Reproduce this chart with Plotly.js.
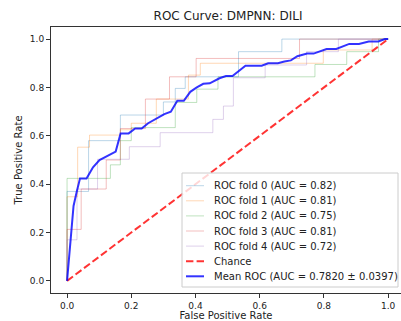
<!DOCTYPE html>
<html>
<head>
<meta charset="utf-8">
<script src="https://cdn.plot.ly/plotly-3.0.1.min.js"></script>
<style>html,body{margin:0;padding:0;background:#fff;}#chart{width:401px;height:321px;}</style>
</head>
<body>
<div id="chart"></div>
<script>
// ---- data ----
const foldLabels = ["ROC fold 0", "ROC fold 1", "ROC fold 2", "ROC fold 3", "ROC fold 4"];
const foldAUC = [0.82, 0.81, 0.75, 0.81, 0.72];

const fold0_fpr = [0, 0, 0.067, 0.067, 0.166, 0.166, 0.30, 0.30, 0.337, 0.337, 0.368, 0.368, 0.534, 0.534, 0.669, 0.669, 1];
const fold0_tpr = [0, 0.37, 0.37, 0.58, 0.58, 0.686, 0.686, 0.74, 0.74, 0.796, 0.796, 0.844, 0.844, 0.948, 0.948, 1, 1];

const fold1_fpr = [0, 0, 0.033, 0.033, 0.07, 0.07, 0.166, 0.166, 0.2, 0.2, 0.278, 0.278, 0.378, 0.378, 0.415, 0.415, 0.798, 0.798, 0.95, 0.95, 1];
const fold1_tpr = [0, 0.348, 0.348, 0.553, 0.553, 0.603, 0.603, 0.625, 0.625, 0.652, 0.652, 0.752, 0.752, 0.851, 0.851, 0.9, 0.9, 0.955, 0.955, 1, 1];

const fold2_fpr = [0, 0, 0.135, 0.135, 0.166, 0.166, 0.2, 0.2, 0.337, 0.337, 0.404, 0.404, 0.47, 0.47, 0.772, 0.772, 0.871, 0.871, 0.97, 0.97, 1];
const fold2_tpr = [0, 0.424, 0.424, 0.48, 0.48, 0.58, 0.58, 0.634, 0.634, 0.738, 0.738, 0.793, 0.793, 0.844, 0.844, 0.895, 0.895, 0.948, 0.948, 1, 1];

const fold3_fpr = [0, 0, 0.044, 0.044, 0.122, 0.122, 0.166, 0.166, 0.244, 0.244, 0.319, 0.319, 0.402, 0.402, 0.724, 0.724, 1];
const fold3_tpr = [0, 0.213, 0.213, 0.38, 0.38, 0.5, 0.5, 0.63, 0.63, 0.752, 0.752, 0.844, 0.844, 0.92, 0.92, 1, 1];

const fold4_fpr = [0, 0, 0.031, 0.031, 0.095, 0.095, 0.194, 0.194, 0.29, 0.29, 0.454, 0.454, 0.487, 0.487, 0.518, 0.518, 0.617, 0.617, 0.746, 0.746, 0.845, 0.845, 1];
const fold4_tpr = [0, 0.17, 0.17, 0.38, 0.38, 0.503, 0.503, 0.555, 0.555, 0.613, 0.613, 0.668, 0.668, 0.723, 0.723, 0.84, 0.84, 0.893, 0.893, 0.948, 0.948, 1, 1];

const mean_fpr = [0, 0.0101, 0.0202, 0.0303, 0.0404, 0.0606, 0.0808, 0.101, 0.1212, 0.1414, 0.1515, 0.1667, 0.1919, 0.2121, 0.2323, 0.2525, 0.2828, 0.303, 0.3232, 0.3434, 0.3636, 0.3838, 0.404, 0.4242, 0.4444, 0.4747, 0.4949, 0.5152, 0.5556, 0.6061, 0.6263, 0.6566, 0.6768, 0.697, 0.7172, 0.7475, 0.7677, 0.8081, 0.8384, 0.8788, 0.9091, 0.9394, 0.9697, 0.9899, 1.0];
const mean_tpr = [0, 0.16, 0.31, 0.37, 0.424, 0.424, 0.47, 0.5, 0.515, 0.53, 0.535, 0.61, 0.61, 0.63, 0.63, 0.652, 0.675, 0.69, 0.7, 0.745, 0.745, 0.782, 0.8, 0.815, 0.817, 0.838, 0.847, 0.847, 0.89, 0.89, 0.9, 0.9, 0.907, 0.912, 0.929, 0.94, 0.94, 0.959, 0.959, 0.98, 0.98, 0.99, 0.99, 1.0, 1.0];

const meanAUC = 0.7820;
const stdAUC = 0.0397;
const chance_x = [0, 1];
const chance_y = [0, 1];

const tickVals = [0, 0.2, 0.4, 0.6, 0.8, 1.0];
const tickText = ["0.0", "0.2", "0.4", "0.6", "0.8", "1.0"];

// ---- styling ----
const foldColors = ["rgba(31,119,180,0.3)", "rgba(255,127,14,0.3)", "rgba(44,160,44,0.3)", "rgba(214,39,40,0.3)", "rgba(148,103,189,0.3)"];
const chanceColor = "rgba(255,0,0,0.8)";
const meanColor = "rgba(0,0,255,0.8)";
const FONT = "DejaVu Sans, sans-serif";

const foldX = [fold0_fpr, fold1_fpr, fold2_fpr, fold3_fpr, fold4_fpr];
const foldY = [fold0_tpr, fold1_tpr, fold2_tpr, fold3_tpr, fold4_tpr];

const traces = [];
for (let i = 0; i < foldX.length; i++) {
  traces.push({x: foldX[i], y: foldY[i], type: "scatter", mode: "lines",
    line: {color: foldColors[i], width: 1}, hoverinfo: "skip", showlegend: false});
}
traces.push({x: chance_x, y: chance_y, type: "scatter", mode: "lines",
  line: {color: chanceColor, width: 2, dash: "7.4px,3.2px"}, showlegend: false});
traces.push({x: mean_fpr, y: mean_tpr, type: "scatter", mode: "lines",
  line: {color: meanColor, width: 2}, showlegend: false});

// ---- hand-built legend (matplotlib spacing) ----
const W = 401, H = 321, ML = 51, MR = 0, MT = 27, MB = 28;
const pw = W - ML - MR, ph = H - MT - MB;
const px = v => (v - ML) / pw;
const py = v => (H - MB - v) / ph;

const legLabels = foldLabels.map((l, i) => l + " (AUC = " + foldAUC[i].toFixed(2) + ")");
legLabels.push("Chance");
legLabels.push("Mean ROC (AUC = " + meanAUC.toFixed(4) + " \u00b1 " + stdAUC.toFixed(4) + ")");
const legStyles = foldColors.map(c => ({color: c, width: 1}));
legStyles.push({color: chanceColor, width: 2, dash: "7.4px,3.2px"});
legStyles.push({color: meanColor, width: 2});

const shapes = [{type: "rect", xref: "paper", yref: "paper", layer: "above",
  x0: px(182), x1: px(398), y0: py(287), y1: py(173),
  line: {color: "#cccccc", width: 1}, fillcolor: "rgba(255,255,255,0.8)"}];
const annotations = [];
const row0 = 185.7, rowStep = 15.1;
legLabels.forEach((t, i) => {
  const yy = py(row0 + i * rowStep);
  shapes.push({type: "line", xref: "paper", yref: "paper", layer: "above",
    x0: px(186), x1: px(204), y0: yy, y1: yy, line: legStyles[i]});
  annotations.push({xref: "paper", yref: "paper", x: px(213), y: yy, xanchor: "left", yanchor: "middle",
    text: t, showarrow: false, font: {family: FONT, size: 10, color: "#222"}, borderpad: 0});
});

const layout = {
  width: W, height: H,
  margin: {l: ML, r: MR, t: MT, b: MB, pad: 0},
  paper_bgcolor: "#ffffff", plot_bgcolor: "#ffffff",
  font: {family: FONT, size: 9, color: "#222"},
  title: {text: "ROC Curve: DMPNN: DILI", font: {family: FONT, size: 12, color: "#222"},
    x: 228 / W, xanchor: "center", y: 1 - 16 / H, yanchor: "middle"},
  xaxis: {range: [-0.05, 1.04], tickvals: tickVals, ticktext: tickText, ticks: "outside", ticklen: 4,
    tickcolor: "#333", showgrid: false, zeroline: false, showline: true, linecolor: "#333", linewidth: 1,
    mirror: true, title: {text: "False Positive Rate", font: {family: FONT, size: 10, color: "#222"}, standoff: 4},
    automargin: false, tickfont: {family: FONT, size: 9, color: "#222"}},
  yaxis: {range: [-0.05, 1.05], tickvals: tickVals, ticktext: tickText, ticks: "outside", ticklen: 4,
    tickcolor: "#333", showgrid: false, zeroline: false, showline: true, linecolor: "#333", linewidth: 1,
    title: {text: "True Positive Rate", font: {family: FONT, size: 10, color: "#222"}, standoff: 5},
    automargin: false, tickfont: {family: FONT, size: 9, color: "#222"}},
  shapes: shapes,
  annotations: annotations,
  showlegend: false
};

Plotly.newPlot("chart", traces, layout, {staticPlot: true, displayModeBar: false});
</script>
</body>
</html>
